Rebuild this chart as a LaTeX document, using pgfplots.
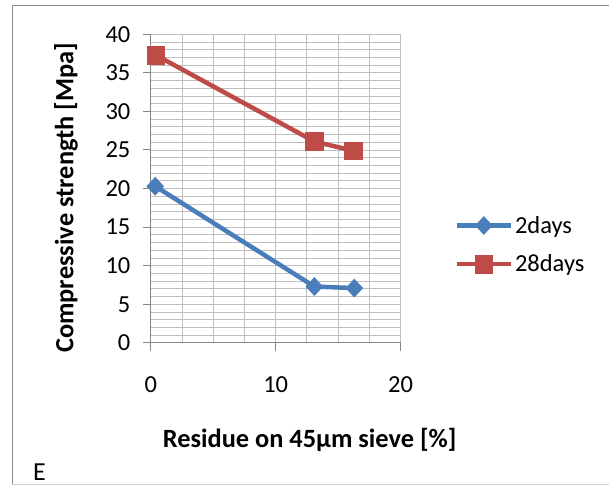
\documentclass[border=0pt]{standalone}
\usepackage{fontspec}
\setmainfont{Carlito}
\usepackage{pgfplots}
\pgfplotsset{compat=1.18}

\definecolor{serA}{HTML}{4A7EBB}
\definecolor{serB}{HTML}{BE4B48}
\definecolor{gridc}{HTML}{BFBFBF}
\definecolor{axisc}{HTML}{868686}

\begin{document}
\begin{tikzpicture}
% page extent and chart area frame
\path (0pt,0pt) rectangle (610pt,486pt);
\draw[line width=1.5pt, color=black!45] (12.5pt,0pt) -- (12.5pt,480.7pt) -- (610pt,480.7pt);
\draw[line width=1pt, color=black!18] (12.5pt,1pt) -- (610pt,1pt);
\node[anchor=base west, font=\fontsize{26}{30}\selectfont, inner sep=0pt] at (33pt,5pt) {E};

\begin{axis}[
  at={(151pt,142.7pt)}, anchor=south west,
  scale only axis, width=250pt, height=309pt,
  xmin=0, xmax=20, ymin=0, ymax=40,
  xtick={0,10,20}, ytick={0,5,...,40},
  minor xtick={2.5,5,7.5,12.5,15,17.5},
  minor ytick={0,1,...,40},
  grid=both,
  major grid style={color=gridc, line width=0.9pt},
  minor grid style={color=gridc, line width=0.9pt},
  axis line style={color=axisc, line width=1pt},
  axis x line*=bottom, axis y line*=left,
  tick style={color=axisc, line width=1pt},
  minor tick length=0pt,
  major tick length=8pt,
  tick align=outside,
  /pgf/number format/assume math mode=true,
  tick label style={font=\fontsize{24.5}{28}\selectfont, color=black},
  xticklabel style={yshift=-22pt},
  yticklabel style={xshift=-9pt},
  xlabel={\bfseries Residue on 45µm sieve [\%]},
  ylabel={\bfseries Compressive strength [Mpa]},
  label style={font=\fontsize{26.4}{30}\selectfont},
  x label style={at={(axis description cs:0.636,-0.314)}, anchor=center},
  y label style={at={(axis description cs:-0.34,0.47)}, anchor=center, rotate=0},
  legend style={draw=none, fill=none, at={(axis description cs:1.216,0.318)}, anchor=west,
    font=\fontsize{24.5}{28}\selectfont, row sep=16pt, inner sep=0pt,
    cells={anchor=west}},
  legend image code/.code={\draw[mark repeat=2, mark phase=2] plot coordinates {(0pt,0pt) (27pt,0pt) (54pt,0pt)};},
  clip=false,
]
\addplot[color=serA, line width=4.5pt, mark=diamond*, mark size=9pt,
  mark options={line width=0.5pt, fill=serA, xscale=1.25}]
  coordinates {(0.35,20.3) (13.1,7.3) (16.3,7.1)};
\addlegendentry{2days}
\addplot[color=serB, line width=4.5pt, mark=square*, mark size=8.8pt,
  mark options={line width=0.5pt, fill=serB}]
  coordinates {(0.4,37.3) (13.1,26.1) (16.2,24.9)};
\addlegendentry{28days}
\end{axis}
\end{tikzpicture}
\end{document}
